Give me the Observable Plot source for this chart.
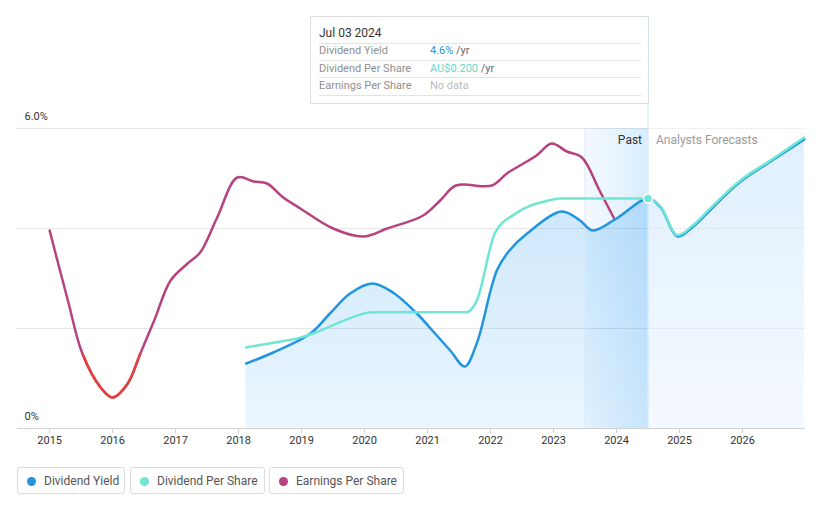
<!DOCTYPE html>
<html><head><meta charset="utf-8">
<script src="https://cdn.jsdelivr.net/npm/d3@7"></script>
<script src="https://cdn.jsdelivr.net/npm/@observablehq/plot@0.6"></script>
<style>
body{margin:0;background:#fff;font-family:Roboto,"Noto Sans",sans-serif;}
#wrap{position:relative;width:821px;height:508px;overflow:hidden;}
#chart{position:absolute;left:0;top:0;}
#tip{position:absolute;left:310px;top:16px;width:337px;height:86px;border:1px solid #dedede;border-right:1px solid #cfe4f5;background:#fff;box-sizing:content-box;}
#tip .r{position:absolute;left:8px;width:322px;font-size:11px;color:#8f8f8f;line-height:14px;}
#tip .sep{position:absolute;left:8px;width:322px;height:1px;background:#e3e3e3;}
#tip .v{position:absolute;left:111px;top:0;}
#legend{position:absolute;left:0;top:467px;}
.lg{position:absolute;top:0;height:27px;border:1px solid #dcdcdc;border-radius:3px;box-sizing:border-box;font-size:12px;color:#555;line-height:26px;}
.lg .dot{position:absolute;left:9px;top:9px;width:9px;height:9px;border-radius:50%;}
.lg span.t{position:absolute;left:26px;top:0;white-space:nowrap;}
</style></head>
<body><div id="wrap"><div id="chart"></div>
<div id="tip"></div>
<div id="legend"></div>
</div>
<script>
// ---- data ----
const yearTicks = [2015,2016,2017,2018,2019,2020,2021,2022,2023,2024,2025,2026];
const yTickValues = [0, 6];
const yTickLabels = ["0%", "6.0%"];
const gridValues = [2, 4, 6];
// Dividend yield (%), past and analyst forecast
const dividendYield = [
  [2018.12,1.30],[2018.55,1.52],[2019.14,1.90],[2019.45,2.30],[2019.77,2.70],[2020.12,2.90],
  [2020.45,2.72],[2020.83,2.30],[2021.09,1.94],[2021.36,1.56],[2021.59,1.24],[2021.78,1.70],[2022.10,3.16],
  [2022.30,3.56],[2022.58,3.90],[2023.13,4.34],[2023.42,4.16],[2023.62,3.96],[2024.00,4.20],
  [2024.50,4.60],[2024.70,4.42],[2024.97,3.84],[2025.20,4.02],[2025.48,4.36],[2025.95,4.92],
  [2026.47,5.36],[2026.98,5.78]
];
// Dividend per share (AU$)
const dividendPerShare = [
  [2018.12,0.0705],[2018.55,0.0745],[2018.98,0.0790],[2019.30,0.0850],[2019.61,0.0925],[2019.85,0.0975],
  [2020.12,0.1010],[2021.62,0.1010],[2021.78,0.1110],[2022.07,0.1700],[2022.40,0.1870],[2022.90,0.1980],
  [2023.10,0.2000],[2024.50,0.2000],[2024.70,0.1930],[2024.97,0.1680],[2025.20,0.1760],[2025.48,0.1910],
  [2025.95,0.2150],[2026.47,0.2340],[2026.98,0.2530]
];
const dpsToChart = 23; // AU$0.200 sits at the 4.6% level
// Earnings per share (relative level on the chart)
const earningsPerShare = [
  [2015.00,3.96],[2015.29,2.56],[2015.52,1.50],[2015.81,0.82],[2016.00,0.62],[2016.24,0.90],
  [2016.44,1.50],[2016.66,2.16],[2016.92,2.96],[2017.19,3.30],[2017.39,3.52],[2017.66,4.22],
  [2017.98,5.02],[2018.24,4.94],[2018.45,4.90],[2018.71,4.62],[2018.98,4.40],[2019.50,4.00],
  [2019.98,3.84],[2020.36,4.00],[2020.93,4.26],[2021.20,4.56],[2021.45,4.86],[2022.02,4.86],
  [2022.26,5.10],[2022.73,5.46],[2022.97,5.70],[2023.21,5.54],[2023.45,5.42],[2023.73,4.76],
  [2023.97,4.18]
];
const epsNegativeBelow = 1.5;
const nowX = 2024.5, pastStart = 2023.5;
const xDomain = [2014.49, 2027.0], yDomain = [0, 6.54];

// ---- chart ----
const C = {blue:"#2394df", teal:"#6fe6d4", eps:"#b6437f", red:"#e5403a"};
const dy = dividendYield.map(([x,v])=>({x,v}));
const dps = dividendPerShare.map(([x,v])=>({x,v:v*dpsToChart}));
const eps = earningsPerShare.map(([x,v])=>({x,v}));
const curve = "catmull-rom";
const flatCurve = "monotone-x";

const svg = Plot.plot({
  width:821, height:455,
  marginLeft:17, marginRight:16, marginTop:101, marginBottom:27,
  x:{domain:xDomain, ticks:yearTicks, tickFormat:d=>String(d), tickSize:5, tickPadding:3, label:null},
  y:{domain:yDomain, axis:null},
  style:{fontFamily:"Roboto, 'Noto Sans', sans-serif", fontSize:"11px", color:"#333", background:"transparent"},
  marks:[
    Plot.ruleY(gridValues, {stroke:"#e6e6e6"}),
    Plot.areaY(dy, {x:"x", y:"v", curve, fill:"url(#areaGrad)"}),
    Plot.rect([{a:nowX,b:xDomain[1]}], {x1:"a", x2:"b", y1:yDomain[0], y2:6, fill:"#fff", fillOpacity:0.45}),
    Plot.rect([{a:pastStart,b:nowX}], {x1:"a", x2:"b", y1:yDomain[0], y2:6, fill:"url(#bandGrad)"}),
    Plot.ruleX([pastStart], {y1:0, y2:6, stroke:"#d9eaf8"}),
    Plot.ruleX([nowX], {stroke:"#cfe4f5"}),
    Plot.ruleY([0], {stroke:"#d0d0d0"}),
    Plot.text(yTickValues.map((v,i)=>({v,t:yTickLabels[i]})), {x:xDomain[0], y:"v", text:"t", dx:7, dy:-12, textAnchor:"start", fill:"#333"}),
    Plot.text([{x:nowX, y:5.76}], {x:"x", y:"y", text:()=>"Past", dx:-6, textAnchor:"end", fill:"#333", fontSize:12}),
    Plot.text([{x:nowX, y:5.76}], {x:"x", y:"y", text:()=>"Analysts Forecasts", dx:8, textAnchor:"start", fill:"#9a9a9a", fontSize:12}),
    Plot.line(eps, {x:"x", y:"v", curve, stroke:C.eps, strokeWidth:2.5}),
    Plot.line(eps, {x:"x", y:"v", curve, stroke:C.red, strokeWidth:2.5, className:"eps-neg"}),
    Plot.line(dy, {x:"x", y:"v", curve, stroke:C.blue, strokeWidth:2.5}),
    Plot.line(dps, {x:"x", y:"v", curve:flatCurve, stroke:C.teal, strokeWidth:2.5}),
    Plot.dot(dps.filter(d=>d.x===nowX), {x:"x", y:"v", r:4.5, fill:C.teal, stroke:"#fff", strokeWidth:1.5})
  ]
});

const yS = svg.scale("y");
const defs = d3.select(svg).insert("defs", ":first-child");
const ag = defs.append("linearGradient").attr("id","areaGrad").attr("x1",0).attr("y1",0).attr("x2",0).attr("y2",1);
ag.append("stop").attr("offset","0%").attr("stop-color","#2196f3").attr("stop-opacity",0.26);
ag.append("stop").attr("offset","100%").attr("stop-color","#2196f3").attr("stop-opacity",0.09);
const bg = defs.append("linearGradient").attr("id","bandGrad").attr("x1",0).attr("y1",0).attr("x2",1).attr("y2",0);
bg.append("stop").attr("offset","0%").attr("stop-color","#2196f3").attr("stop-opacity",0.05);
bg.append("stop").attr("offset","100%").attr("stop-color","#2196f3").attr("stop-opacity",0.17);
const cp = defs.append("clipPath").attr("id","negClip");
cp.append("rect").attr("x",0).attr("y",yS.apply(epsNegativeBelow)).attr("width",821).attr("height",455);
d3.select(svg).selectAll(".eps-neg").attr("clip-path","url(#negClip)");
d3.select(svg).selectAll("g[aria-label^='x-axis'] path, g[aria-label^='x-axis'] line").attr("stroke","#cfcfcf");
d3.select(svg).selectAll("g[aria-label^='x-axis'] text").attr("fill","#333");
document.getElementById("chart").appendChild(svg);

// ---- tooltip ----
const tip = document.getElementById("tip");
const tipDate = "Jul 03 2024";
const tipRows = [
  {label:"Dividend Yield", value:"4.6%", color:C.blue, unit:" /yr"},
  {label:"Dividend Per Share", value:"AU$0.200", color:"#5fdcc8", unit:" /yr"},
  {label:"Earnings Per Share", value:"No data", color:"#bbbbbb", unit:""}
];
let html = `<div class="r" style="top:9px;font-size:12px;color:#333">${tipDate}</div>`;
[26,43,60,78].forEach(t=>html+=`<div class="sep" style="top:${t}px"></div>`);
tipRows.forEach((r,i)=>{
  html += `<div class="r" style="top:${27+i*17.5}px">${r.label}<span class="v"><span style="color:${r.color}">${r.value}</span><span style="color:#666">${r.unit}</span></span></div>`;
});
tip.innerHTML = html;

// ---- legend ----
const legendItems = [
  {label:"Dividend Yield", color:C.blue, left:17, w:108},
  {label:"Dividend Per Share", color:C.teal, left:130, w:135},
  {label:"Earnings Per Share", color:C.eps, left:269, w:135}
];
document.getElementById("legend").innerHTML = legendItems.map(l=>
  `<div class="lg" style="left:${l.left}px;width:${l.w}px"><div class="dot" style="background:${l.color}"></div><span class="t">${l.label}</span></div>`).join("");
</script>
</body></html>
